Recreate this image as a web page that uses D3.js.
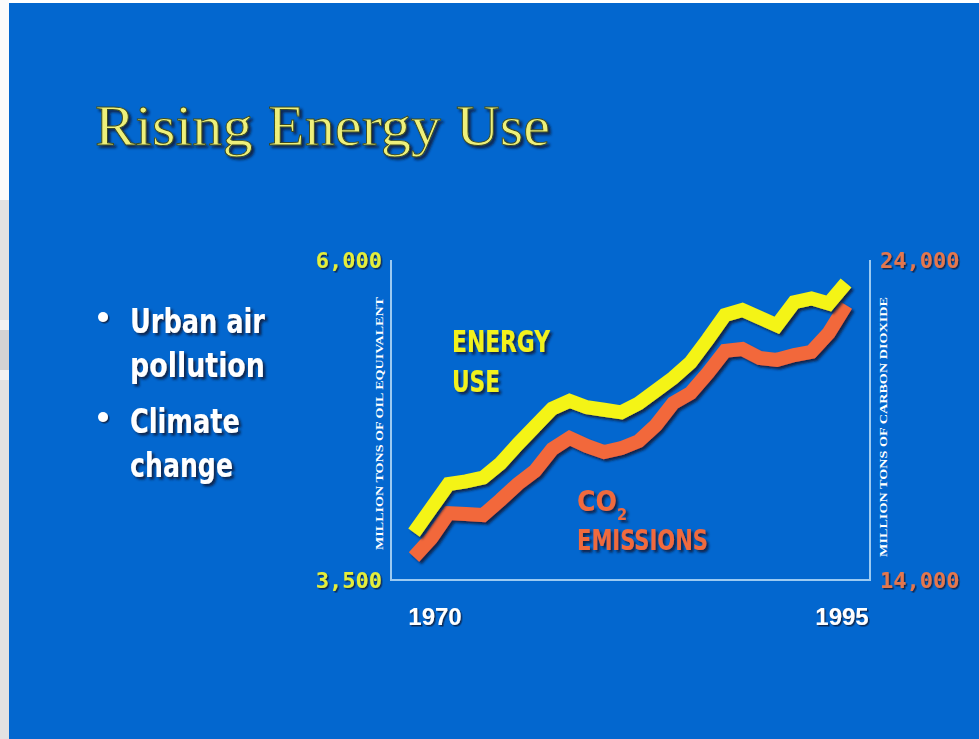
<!DOCTYPE html>
<html>
<head>
<meta charset="utf-8">
<script src="https://cdn.jsdelivr.net/npm/d3@7"></script>
<style>
  html, body { margin: 0; padding: 0; background: #ffffff; }
  svg { display: block; }
</style>
</head>
<body>
<svg id="chart" width="979" height="739"></svg>
<script>
// World energy use vs. CO2 emissions, 1970-1995
const years = [1970, 1971, 1972, 1973, 1974, 1975, 1976, 1977, 1978, 1979,
               1980, 1981, 1982, 1983, 1984, 1985, 1986, 1987, 1988, 1989,
               1990, 1991, 1992, 1993, 1994, 1995];
// million tons of oil equivalent
const energyUse = [3870, 4060, 4250, 4270, 4300, 4410, 4560, 4700, 4840, 4900,
                   4850, 4830, 4810, 4880, 4980, 5080, 5200, 5380, 5570, 5610,
                   5550, 5490, 5670, 5700, 5660, 5820];
// million tons of carbon dioxide
const co2Emissions = [14720, 15310, 16090, 16060, 16030, 16500, 17000, 17410, 18090, 18440,
                      18190, 18000, 18120, 18340, 18840, 19530, 19840, 20470, 21160, 21220,
                      20940, 20880, 21030, 21130, 21720, 22590];
const leftTicks = [3500, 6000];
const rightTicks = [14000, 24000];
const yearTicks = [1970, 1995];
const bullets = [["Urban air", "pollution"], ["Climate", "change"]];

const svg = d3.select("#chart");

// slide backdrop
svg.append("rect").attr("x", 0).attr("y", 0).attr("width", 9).attr("height", 739).attr("fill", "#e2e2e2");
svg.append("rect").attr("x", 0).attr("y", 0).attr("width", 9).attr("height", 200).attr("fill", "#fbfbfb");
svg.append("rect").attr("x", 0).attr("y", 320).attr("width", 9).attr("height", 60).attr("fill", "#f2f2f2");
svg.append("rect").attr("x", 0).attr("y", 330).attr("width", 9).attr("height", 40).attr("fill", "#d3d3d3");
svg.append("rect").attr("x", 9).attr("y", 3).attr("width", 970).attr("height", 736).attr("fill", "#0367cf");

const defs = svg.append("defs");
const shadow = defs.append("filter").attr("id", "shadow")
  .attr("x", "-10%").attr("y", "-10%").attr("width", "130%").attr("height", "130%");
shadow.append("feDropShadow").attr("dx", 2.5).attr("dy", 2.5).attr("stdDeviation", 0.8)
  .attr("flood-color", "#0a1a40").attr("flood-opacity", 0.9);
const softShadow = defs.append("filter").attr("id", "softShadow")
  .attr("x", "-10%").attr("y", "-10%").attr("width", "130%").attr("height", "130%");
softShadow.append("feDropShadow").attr("dx", 1.5).attr("dy", 1.5).attr("stdDeviation", 0.6)
  .attr("flood-color", "#0a1a40").attr("flood-opacity", 0.85);

const condensed = "'Liberation Sans Narrow', 'DejaVu Sans Condensed', 'Roboto Condensed', sans-serif";

// title
svg.append("text")
  .attr("x", 95).attr("y", 145)
  .attr("textLength", 455).attr("lengthAdjust", "spacingAndGlyphs")
  .attr("font-family", "'Liberation Serif', 'DejaVu Serif', serif")
  .attr("font-size", 57)
  .attr("fill", "#eef07a")
  .attr("stroke", "#3a4a20").attr("stroke-width", 0.9)
  .attr("filter", "url(#shadow)")
  .text("Rising Energy Use");

// bullet list
const lineBase = [[333, 377], [433, 477]];
const lineLen = [[135, 135], [110, 103]];
bullets.forEach((item, i) => {
  svg.append("circle").attr("cx", 103).attr("cy", lineBase[i][0] - 16).attr("r", 5)
    .attr("fill", "#ffffff").attr("filter", "url(#softShadow)");
  item.forEach((line, j) => {
    svg.append("text")
      .attr("x", 130).attr("y", lineBase[i][j])
      .attr("textLength", lineLen[i][j]).attr("lengthAdjust", "spacingAndGlyphs")
      .attr("font-family", condensed).attr("font-weight", "bold")
      .attr("font-size", 34).attr("fill", "#ffffff")
      .attr("filter", "url(#shadow)")
      .text(line);
  });
});

// scales
const x = d3.scaleLinear().domain([1970, 1995]).range([414, 846]);
const yLeft = d3.scaleLinear().domain([3500, 6000]).range([580, 260]);
const yRight = d3.scaleLinear().domain([14000, 24000]).range([580, 260]);
const frameLeft = 391, frameRight = 870;

// frame
const axisColor = "#9ccaf2";
svg.append("path")
  .attr("d", `M${frameLeft},${yLeft(6000)} V${yLeft(3500)} H${frameRight} V${yRight(24000)}`)
  .attr("fill", "none").attr("stroke", axisColor).attr("stroke-width", 2);

// left axis labels
const leftAxis = svg.append("g").attr("transform", `translate(${frameLeft},0)`)
  .call(d3.axisLeft(yLeft).tickValues(leftTicks).tickSize(0).tickPadding(9)
    .tickFormat(d3.format(",")));
leftAxis.select(".domain").remove();
leftAxis.selectAll("text")
  .attr("font-family", "'DejaVu Sans Mono', monospace").attr("font-weight", "bold")
  .attr("font-size", 22).attr("fill", "#e4ee3a")
  .attr("filter", "url(#softShadow)");

// right axis labels
const rightAxis = svg.append("g").attr("transform", `translate(${frameRight},0)`)
  .call(d3.axisRight(yRight).tickValues(rightTicks).tickSize(0).tickPadding(10)
    .tickFormat(d3.format(",")));
rightAxis.select(".domain").remove();
rightAxis.selectAll("text")
  .attr("font-family", "'DejaVu Sans Mono', monospace").attr("font-weight", "bold")
  .attr("font-size", 22).attr("fill", "#e4774e")
  .attr("filter", "url(#softShadow)");

// year labels
svg.selectAll("text.year").data(yearTicks).join("text")
  .attr("class", "year")
  .attr("x", d => x(d) + (d === 1970 ? 21 : -4))
  .attr("y", 625)
  .attr("text-anchor", "middle")
  .attr("font-family", "'Liberation Sans', Arial, sans-serif").attr("font-weight", "bold")
  .attr("font-size", 24).attr("fill", "#ffffff")
  .attr("filter", "url(#softShadow)")
  .text(d => d);

// rotated unit titles
svg.append("text")
  .attr("transform", `translate(383,${(297 + 550) / 2}) rotate(-90)`)
  .attr("text-anchor", "middle")
  .attr("textLength", 253).attr("lengthAdjust", "spacingAndGlyphs")
  .attr("font-family", "'Liberation Serif', serif").attr("font-weight", "bold")
  .attr("font-size", 10).attr("fill", "#ffffff")
  .text("MILLION TONS OF OIL EQUIVALENT");
svg.append("text")
  .attr("transform", `translate(887,${(297 + 557) / 2}) rotate(-90)`)
  .attr("text-anchor", "middle")
  .attr("textLength", 260).attr("lengthAdjust", "spacingAndGlyphs")
  .attr("font-family", "'Liberation Serif', serif").attr("font-weight", "bold")
  .attr("font-size", 10).attr("fill", "#ffffff")
  .text("MILLION TONS OF CARBON DIOXIDE");

// series lines
const co2Line = d3.line().x((d, i) => x(years[i])).y(d => yRight(d));
const energyLine = d3.line().x((d, i) => x(years[i])).y(d => yLeft(d));

svg.append("path").datum(co2Emissions)
  .attr("d", co2Line)
  .attr("fill", "none").attr("stroke", "#f2683a").attr("stroke-width", 14)
  .attr("stroke-linejoin", "miter").attr("stroke-linecap", "butt")
  .attr("filter", "url(#shadow)");

svg.append("path").datum(energyUse)
  .attr("d", energyLine)
  .attr("fill", "none").attr("stroke", "#f4f414").attr("stroke-width", 14)
  .attr("stroke-linejoin", "miter").attr("stroke-linecap", "butt")
  .attr("filter", "url(#shadow)");

// series labels
const energyLabel = svg.append("g").attr("font-family", condensed).attr("font-weight", "bold")
  .attr("fill", "#f2f21e").attr("filter", "url(#shadow)");
energyLabel.append("text").attr("x", 452).attr("y", 352).attr("font-size", 30)
  .attr("textLength", 98).attr("lengthAdjust", "spacingAndGlyphs").text("ENERGY");
energyLabel.append("text").attr("x", 452).attr("y", 392).attr("font-size", 30)
  .attr("textLength", 48).attr("lengthAdjust", "spacingAndGlyphs").text("USE");

const co2Label = svg.append("g").attr("font-family", condensed).attr("font-weight", "bold")
  .attr("fill", "#f06a3e").attr("filter", "url(#shadow)");
const co2Text = co2Label.append("text").attr("x", 577).attr("y", 511).attr("font-size", 28);
co2Text.append("tspan").text("CO");
co2Text.append("tspan").attr("font-size", 16).attr("dy", 9).text("2");
co2Label.append("text").attr("x", 577).attr("y", 550).attr("font-size", 28)
  .attr("textLength", 131).attr("lengthAdjust", "spacingAndGlyphs").text("EMISSIONS");
</script>
</body>
</html>
